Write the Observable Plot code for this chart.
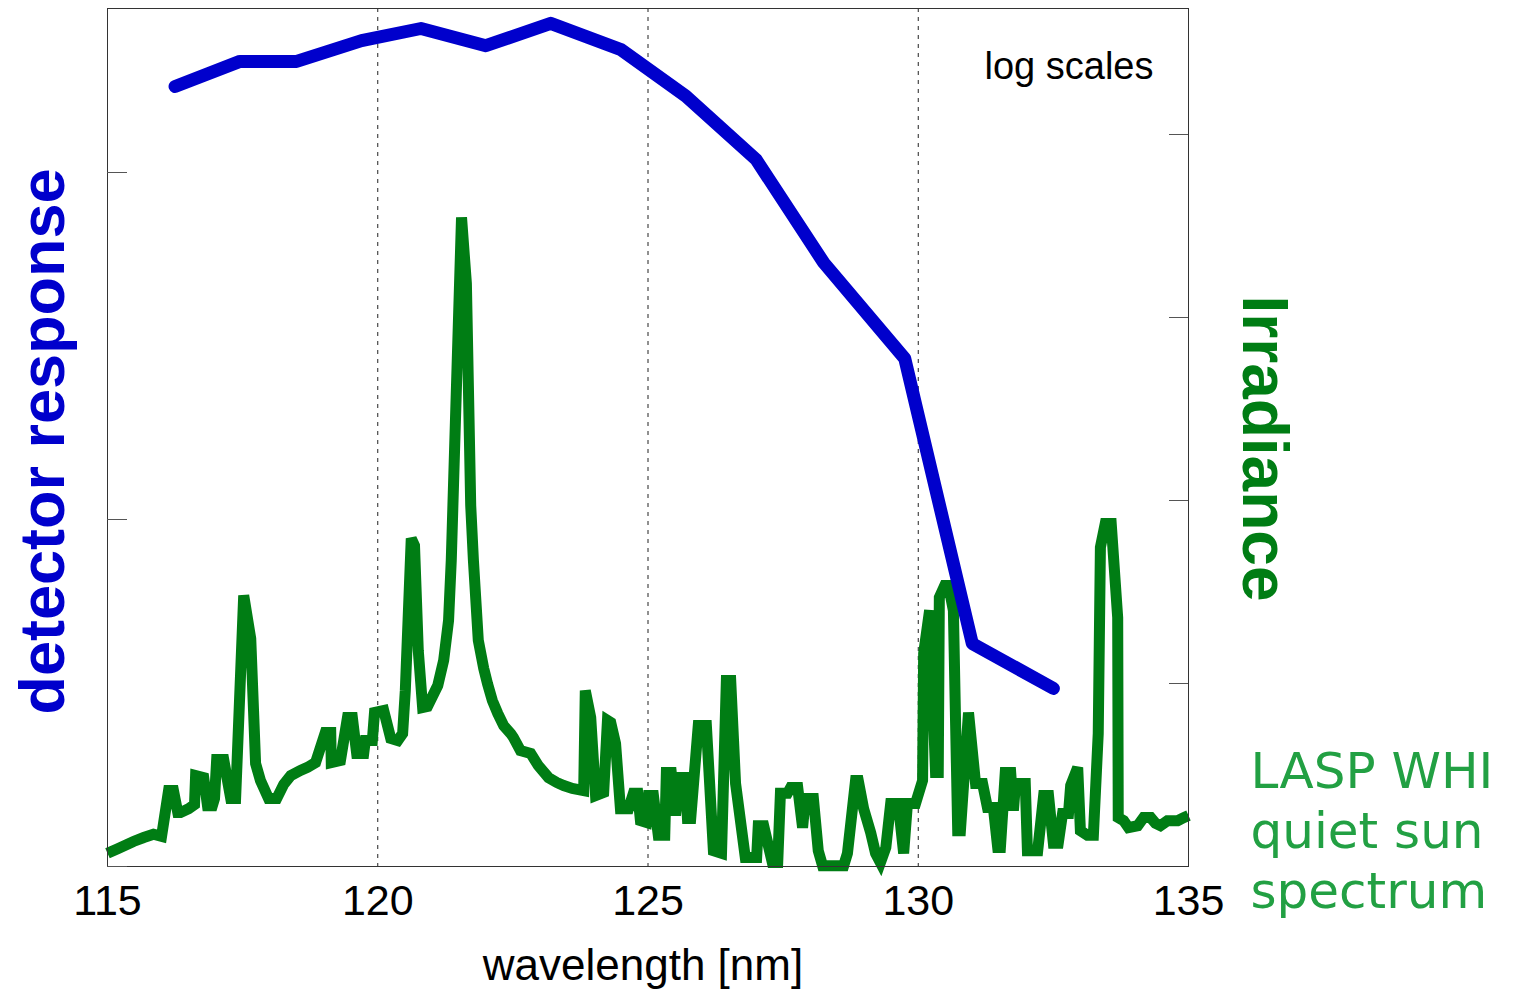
<!DOCTYPE html>
<html>
<head>
<meta charset="utf-8">
<script src="https://cdn.jsdelivr.net/npm/d3@7"></script>
<script src="https://cdn.jsdelivr.net/npm/@observablehq/plot@0.6"></script>
<style>
  html, body { margin: 0; padding: 0; background: white; overflow: hidden; }
  #wrap { position: relative; width: 1517px; height: 1001px; }
  #wrap svg { position: absolute; left: 0; top: 0; max-width: none; }
</style>
</head>
<body>
<div id="wrap"></div>
<script>
// ---- data ----
const xTicks = [115, 120, 125, 130, 135];
const detTicks = [1, 10, 100];
const irrTicks = [1, 10, 100, 1000, 10000];

// detector response (arbitrary units, log scale)
const detWavelength = [116.25, 117.45, 118.5, 119.7, 120.8, 122.0, 123.2, 124.5, 125.7, 127.0, 128.25, 129.75, 131.0, 132.5];
const detResponse   = [177, 209, 209, 240, 260, 232, 269, 226, 166, 109, 55, 29.1, 4.39, 3.26];

// LASP WHI quiet sun spectrum (µW m^-2 nm^-1, log scale)
const irrWavelength = [
  115.00,115.19,115.48,115.67,115.85,116.00,116.13,116.22,116.30,116.35,
  116.50,116.61,116.63,116.78,116.85,116.94,116.98,117.02,117.15,117.28,
  117.37,117.52,117.65,117.74,117.83,117.98,118.13,118.26,118.39,118.57,
  118.70,118.85,119.03,119.13,119.14,119.31,119.44,119.53,119.61,119.74,
  119.77,119.90,119.94,120.11,120.24,120.37,120.46,120.51,120.62,120.68,
  120.75,120.83,120.92,121.11,121.22,121.31,121.36,121.55,121.64,121.72,
  121.77,121.86,121.96,122.03,122.12,122.22,122.33,122.46,122.51,122.64,
  122.83,122.97,123.16,123.31,123.44,123.60,123.81,123.84,123.94,124.03,
  124.18,124.25,124.31,124.40,124.49,124.64,124.73,124.81,124.86,124.97,
  125.01,125.10,125.19,125.31,125.34,125.43,125.51,125.58,125.69,125.73,
  125.79,125.93,126.08,126.21,126.36,126.45,126.53,126.62,126.80,127.01,
  127.04,127.14,127.30,127.40,127.45,127.58,127.64,127.77,127.86,127.91,
  128.06,128.15,128.23,128.43,128.62,128.69,128.84,128.89,128.99,129.12,
  129.21,129.30,129.40,129.49,129.63,129.73,129.80,129.95,130.08,130.10,
  130.21,130.32,130.37,130.39,130.49,130.56,130.65,130.73,130.78,130.93,
  131.06,131.19,131.28,131.39,131.47,131.52,131.61,131.71,131.76,131.80,
  131.98,132.02,132.21,132.32,132.41,132.50,132.59,132.67,132.78,132.82,
  132.95,133.00,133.13,133.24,133.33,133.37,133.46,133.57,133.69,133.70,
  133.80,133.89,134.06,134.17,134.30,134.39,134.48,134.61,134.80,134.91,
  135.00
];
const irradiance = [
  1.18,1.25,1.37,1.44,1.50,1.46,2.60,2.60,1.97,1.97,
  2.07,2.18,3.14,3.06,2.15,2.15,2.35,3.84,3.84,2.35,
  2.35,30.3,17.6,3.65,2.95,2.35,2.35,2.81,3.14,3.35,
  3.48,3.70,5.40,5.40,3.70,3.80,6.52,6.52,4.15,4.15,
  4.88,4.88,6.94,7.12,5.01,4.88,5.33,9.16,62.0,56.8,
  15.1,7.39,7.49,9.75,13.4,22.1,47.0,3520,1534,93.9,
  47.0,17.2,12.1,10.0,8.07,6.86,5.89,5.33,5.07,4.30,
  4.15,3.56,3.06,2.88,2.77,2.67,2.60,9.16,6.52,2.44,
  2.54,6.28,6.12,4.70,2.07,2.07,2.51,2.51,1.78,1.74,
  2.44,2.44,1.48,1.48,3.26,3.26,1.90,3.06,3.06,1.83,
  1.83,5.89,5.89,1.22,1.18,10.4,10.4,2.84,1.12,1.12,
  1.67,1.67,1.05,1.05,2.51,2.51,2.70,2.70,1.63,2.35,
  2.35,1.22,1.01,1.01,1.01,1.18,2.95,2.95,2.07,1.53,
  1.18,1.05,1.27,2.21,2.21,1.18,2.21,2.21,2.95,14.6,
  25.1,3.26,3.26,29.5,34.3,34.3,25.1,1.57,1.57,6.94,
  2.84,2.84,2.10,2.10,1.27,1.27,3.26,3.26,2.02,2.84,
  2.84,1.22,1.22,2.44,2.44,1.34,1.34,1.95,1.95,2.77,
  3.48,1.57,1.48,1.48,5.33,55.4,74.9,74.9,22.9,1.85,
  1.78,1.63,1.67,1.85,1.85,1.72,1.67,1.78,1.78,1.85,
  1.90
];

// ---- layout ----
const W = 1517, H = 1001;
const margins = {marginLeft: 107, marginRight: 329, marginTop: 8, marginBottom: 135};
const font = "'Liberation Sans', Arial, Helvetica, sans-serif";
const blue = "#0000cc", green = "#007d14", lightGreen = "#22a043";

const irrData = irrWavelength.map((w, i) => ({w, v: irradiance[i]}));
const detData = detWavelength.map((w, i) => ({w, v: detResponse[i]}));

// background plot: frame, grid, x axis, right axis, irradiance
const plotA = Plot.plot({
  width: W, height: H, ...margins,
  style: {fontFamily: font, background: "white"},
  x: {domain: [115, 135], axis: null},
  y: {type: "log", domain: [1, Math.pow(10, 858 / 183)], axis: null},
  marks: [
    Plot.gridX(xTicks, {stroke: "#222", strokeOpacity: 1, strokeDasharray: "4,5", strokeWidth: 1}),
    Plot.axisX(xTicks, {anchor: "bottom", tickSize: 0, tickPadding: 18, fontSize: 43, fill: "#000", label: null, tickFormat: d => String(d)}),
    Plot.axisY(irrTicks, {anchor: "right", tickSize: -20, tickFormat: () => "", stroke: "#555", label: null}),
    Plot.line(irrData, {x: "w", y: "v", stroke: green, strokeWidth: 11, strokeLinejoin: "miter", strokeLinecap: "butt", strokeMiterlimit: 4}),
    Plot.frame({stroke: "#333", strokeWidth: 1}),
    Plot.text(["wavelength [nm]"], {frameAnchor: "bottom", lineAnchor: "middle", textAnchor: "middle", dx: -5, dy: 99, fontSize: 44, fill: "#000"}),
    Plot.text(["Irradiance"], {frameAnchor: "right", lineAnchor: "middle", textAnchor: "middle", dx: 75, dy: 11, rotate: 90, fontSize: 64, fontWeight: "bold", fill: green}),
    Plot.text(["log scales"], {frameAnchor: "top-right", lineAnchor: "middle", textAnchor: "end", dx: -35, dy: 58, fontSize: 38, fill: "#000"}),
    Plot.text(["LASP WHI\nquiet sun\nspectrum"], {frameAnchor: "bottom-right", lineAnchor: "middle", textAnchor: "start", dx: 62, dy: -38, lineHeight: 1.2, fontSize: 50, fill: lightGreen, fontFamily: "'Comic Sans MS', 'DejaVu Sans', sans-serif"})
  ]
});

// overlay plot: detector response on left log axis
const plotB = Plot.plot({
  width: W, height: H, ...margins,
  style: {fontFamily: font, background: "transparent"},
  x: {domain: [115, 135], axis: null},
  y: {type: "log", domain: [1, Math.pow(10, 858 / 347)], axis: null},
  marks: [
    Plot.axisY(detTicks, {anchor: "left", tickSize: -20, tickFormat: () => "", stroke: "#555", label: null}),
    Plot.line(detData, {x: "w", y: "v", stroke: blue, strokeWidth: 13, strokeLinejoin: "round", strokeLinecap: "round"}),
    Plot.text(["detector response"], {frameAnchor: "left", lineAnchor: "middle", textAnchor: "middle", dx: -64, dy: 4, rotate: -90, fontSize: 63, fontWeight: "bold", fill: blue})
  ]
});

const wrap = document.getElementById("wrap");
wrap.appendChild(plotA);
wrap.appendChild(plotB);
</script>
</body>
</html>
